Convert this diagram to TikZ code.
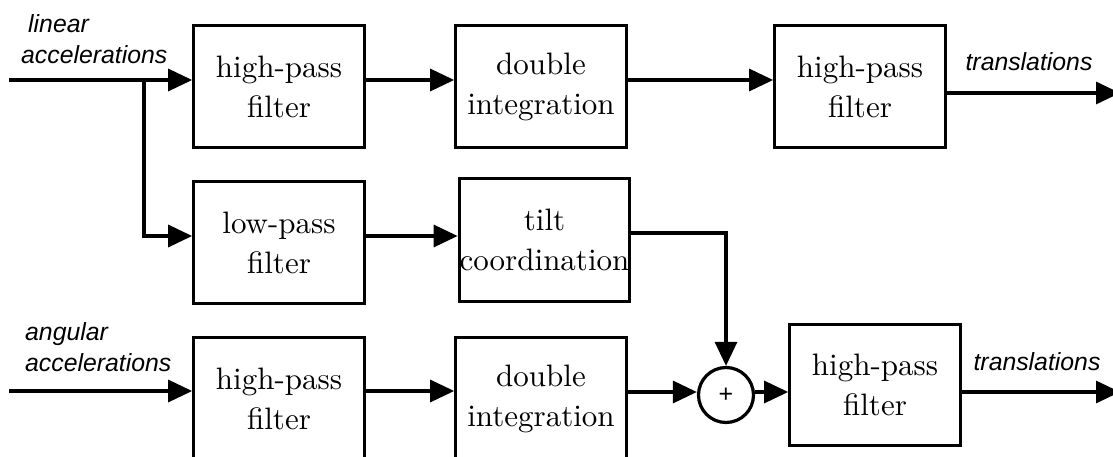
\documentclass[tikz,border=0pt]{standalone}
\usepackage{fontspec}
\newfontfamily\labelfont{Liberation Sans}
\newfontfamily\boxfont{lmroman10-regular}[Extension=.otf]
\usetikzlibrary{arrows.meta}
\begin{document}
\begin{tikzpicture}[x=1pt,y=-1pt,
  box/.style={draw, line width=3.2pt, minimum width=170.5pt, minimum height=121.5pt,
    inner sep=0pt, align=center, font=\boxfont\fontsize{31}{40}\selectfont},
  sumnode/.style={draw, circle, line width=3.2pt, minimum size=55pt, inner sep=0pt,
    font=\labelfont\fontsize{25}{25}\selectfont},
  sig/.style={font=\labelfont\itshape\fontsize{24.8}{31}\selectfont, inner sep=0pt, align=left},
  wire/.style={line width=3.2pt},
  arr/.style={wire, -{Triangle[length=24pt,width=22pt]}}]
\useasboundingbox (0,0) rectangle (1113,457);
\clip (0,0) rectangle (1113,457);

% blocks
\node[box] (hp1) at (279,86.5) {high-pass\\filter};
\node[box] (di1) at (541,86.5) {double\\integration};
\node[box] (hp2) at (860,86.5) {high-pass\\filter};
\node[box] (lp)  at (279,242.5) {low-pass\\filter};
\node[box, minimum height=123pt] (tc) at (544.5,240) {tilt\\coordination};
\node[box] (hp3) at (279,398.5) {high-pass\\filter};
\node[box] (di2) at (541,398.5) {double\\integration};
\node[box] (hp4) at (875,385) {high-pass\\filter};
\node[sumnode] (sum) at (726,395) {+};

% signal labels
\node[sig, anchor=west] (linlab) at (21,39) {\hspace*{7pt}linear\\accelerations};
\node[sig, anchor=west] (anglab) at (25,347.5) {angular\\accelerations};
\node[sig] (tr1) at (1029,62) {translations};
\node[sig] (tr2) at (1037,362) {translations};

% free ends and bends
\coordinate (in1) at (9,80);
\coordinate (in2) at (9,391);
\coordinate (br) at (144,80);
\coordinate (bend) at (726,233);
\coordinate (out1) at (1120,93);
\coordinate (out2) at (1120,392);

% linear path
\draw[arr] (in1) -- (hp1.west |- in1);
\draw[arr] (hp1.east |- in1) -- (di1.west |- in1);
\draw[arr] (di1.east |- in1) -- (hp2.west |- in1);
\draw[arr] (hp2.east |- out1) -- (out1);

% tilt branch
\draw[arr] (br) -- (br |- 0,236) -- (lp.west |- 0,236);
\draw[arr] (lp.east |- 0,236) -- (tc.west |- 0,236);
\draw[arr] (tc.east |- bend) -- (bend) -- (sum.north);

% angular path
\draw[arr] (in2) -- (hp3.west |- in2);
\draw[arr] (hp3.east |- in2) -- (di2.west |- in2);
\draw[arr] (di2.east |- out2) -- (sum.west |- out2);
\draw[arr] (sum.east |- out2) -- (hp4.west |- out2);
\draw[arr] (hp4.east |- out2) -- (out2);
\end{tikzpicture}
\end{document}
